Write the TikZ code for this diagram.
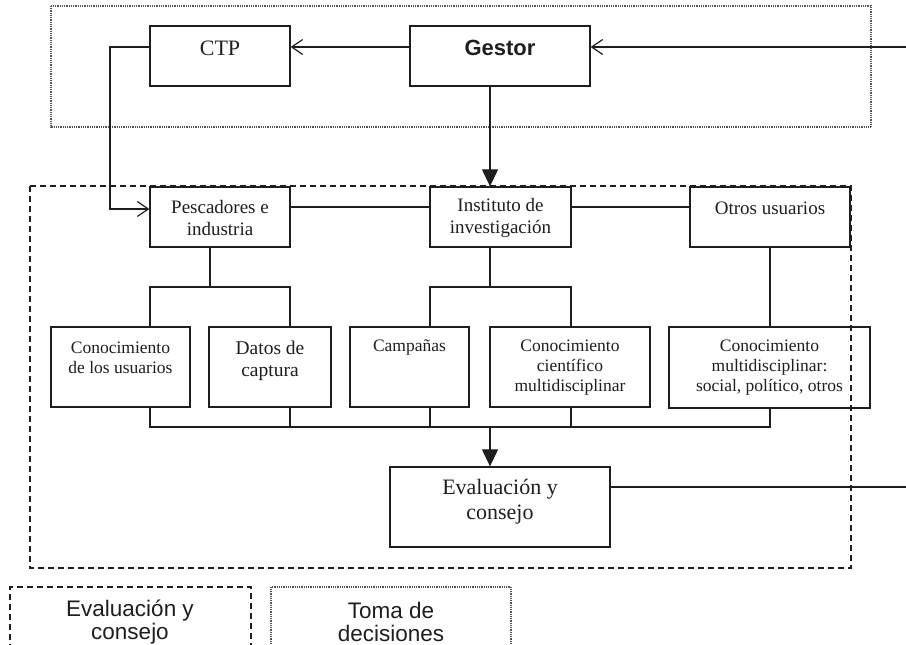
\documentclass[tikz,border=0pt]{standalone}
\usepackage{fontspec}
\setmainfont{Liberation Serif}
\setsansfont{Liberation Sans}
\usetikzlibrary{arrows.meta}
\definecolor{ink}{HTML}{1E1E1E}
\tikzset{
  bx/.style 2 args={draw=ink, line width=1.3pt, minimum width=#1, minimum height=#2, inner sep=0pt},
  lbl/.style={text=ink, align=center, inner sep=0pt},
  ln/.style={draw=ink, line width=1.2pt},
  openarr/.style={-{Straight Barb[length=11pt,width=15pt,line width=1.2pt]}},
  fillarr/.style={-{Triangle[length=17pt,width=16pt]}},
  dotbox/.style={draw=gray!65!black, line width=1.2pt, dash pattern=on 0.8pt off 1pt},
  dashbox/.style={draw=ink, line width=1.2pt, dash pattern=on 6pt off 4pt},
}
\begin{document}
\begin{tikzpicture}[x=1pt,y=-1pt]
\useasboundingbox (0,0) rectangle (906,645);
\begin{scope}
\clip (0,0) rectangle (906,645);
% group frames
\draw[dotbox] (51,6) rectangle (871,127);
\draw[dashbox] (30,186) rectangle (851,568);
% legend frames
\draw[dashbox] (10,660) -- (10,587) -- (251,587) -- (251,660);
\draw[dotbox] (271,660) -- (271,587) -- (511,587) -- (511,660);
\end{scope}

% top boxes
\node[bx={140pt}{60pt}] (ctp) at (220,56) {};
\node[lbl, font=\fontsize{22}{24}\selectfont] (ctpt) at (220,48) {CTP};
\node[bx={180pt}{60pt}] (ges) at (500,56) {};
\node[lbl, font=\sffamily\bfseries\fontsize{22}{24}\selectfont] (gest) at (500,48) {Gestor};

% second row
\node[bx={140pt}{60pt}] (pes) at (220,217) {};
\node[lbl, font=\fontsize{19}{22}\selectfont] (pest) at (220,218) {Pescadores e\\industria};
\node[bx={141pt}{60pt}] (ins) at (500.5,217) {};
\node[lbl, font=\fontsize{19}{22}\selectfont] (inst) at (500.5,218) {Instituto de\\investigación};
\node[bx={160pt}{60pt}] (otr) at (770,217) {};
\node[lbl, font=\fontsize{19}{22}\selectfont] (otrt) at (770,208) {Otros usuarios};

% third row
\node[bx={139pt}{80pt}] (cus) at (120.5,367) {};
\node[lbl, font=\fontsize{17.5}{20}\selectfont] (cust) at (120.5,358) {Conocimiento\\de los usuarios};
\node[bx={122pt}{80pt}] (dat) at (270,367) {};
\node[lbl, font=\fontsize{19.5}{22}\selectfont] (datt) at (270,361) {Datos de\\captura};
\node[bx={119pt}{80pt}] (cam) at (409.5,367) {};
\node[lbl, font=\fontsize{17.5}{20}\selectfont] (camt) at (409.5,347) {Campañas};
\node[bx={160pt}{80pt}] (cci) at (570,367) {};
\node[lbl, font=\fontsize{17.5}{20}\selectfont] (ccit) at (570,368) {Conocimiento\\científico\\multidisciplinar};
\node[bx={201pt}{81pt}] (cmu) at (769.5,367.5) {};
\node[lbl, font=\fontsize{17.5}{20}\selectfont] (cmut) at (769.5,368) {Conocimiento\\multidisciplinar:\\social, político, otros};

% evaluation
\node[bx={220pt}{80pt}] (eva) at (500,507) {};
\node[lbl, font=\fontsize{22}{25}\selectfont] (evat) at (500,502) {Evaluación y\\consejo};

% legend texts
\node[lbl, font=\sffamily\fontsize{22.5}{23}\selectfont] (leg1) at (130,622) {Evaluación y\\consejo};
\node[lbl, font=\sffamily\fontsize{22.5}{23}\selectfont] (leg2) at (391,622) {Toma de\\decisiones};

% free ends
\coordinate (inR) at (906,47);
\coordinate (outR) at (906,487);
\coordinate (bend1) at (110,47);
\coordinate (bend2) at (110,209);
\coordinate (pesfork) at (210,287);
\coordinate (insfork) at (490,287);
\coordinate (join) at (490,427);

% connectors top
\draw[ln, openarr] (inR) -- ([yshift=9pt]ges.east);
\draw[ln, openarr] ([yshift=9pt]ges.west) -- ([yshift=9pt]ctp.east);
\draw[ln, openarr] ([yshift=9pt]ctp.west) -- (bend1) -- (bend2) -- ([yshift=8pt]pes.west);
\draw[ln, fillarr] ([xshift=-10pt]ges.south) -- ([xshift=-10.5pt]ins.north);

% horizontal links
\draw[ln] ([yshift=10pt]pes.east) -- ([yshift=10pt]ins.west);
\draw[ln] ([yshift=10pt]ins.east) -- ([yshift=10pt]otr.west);

% forks
\draw[ln] ([xshift=-10pt]pes.south) -- (pesfork);
\draw[ln] (cus.north -| 150,0) -- (150,287) -- (290,287) -- (dat.north -| 290,0);
\draw[ln] ([xshift=-10.5pt]ins.south) -- (insfork);
\draw[ln] (cam.north -| 430,0) -- (430,287) -- (571,287) -- (cci.north -| 571,0);
\draw[ln] (otr.south) -- (cmu.north -| otr.south);

% join to evaluation
\draw[ln] (cus.south -| 150,0) -- (150,427) -- (770,427) -- (cmu.south -| 770,0);
\draw[ln] (dat.south -| 290,0) -- (290,427);
\draw[ln] (cam.south -| 430,0) -- (430,427);
\draw[ln] (cci.south -| 571,0) -- (571,427);
\draw[ln, fillarr] (join) -- ([xshift=-10pt]eva.north);
\draw[ln] ([yshift=20pt]eva.east) -- (outR);
\end{tikzpicture}
\end{document}
